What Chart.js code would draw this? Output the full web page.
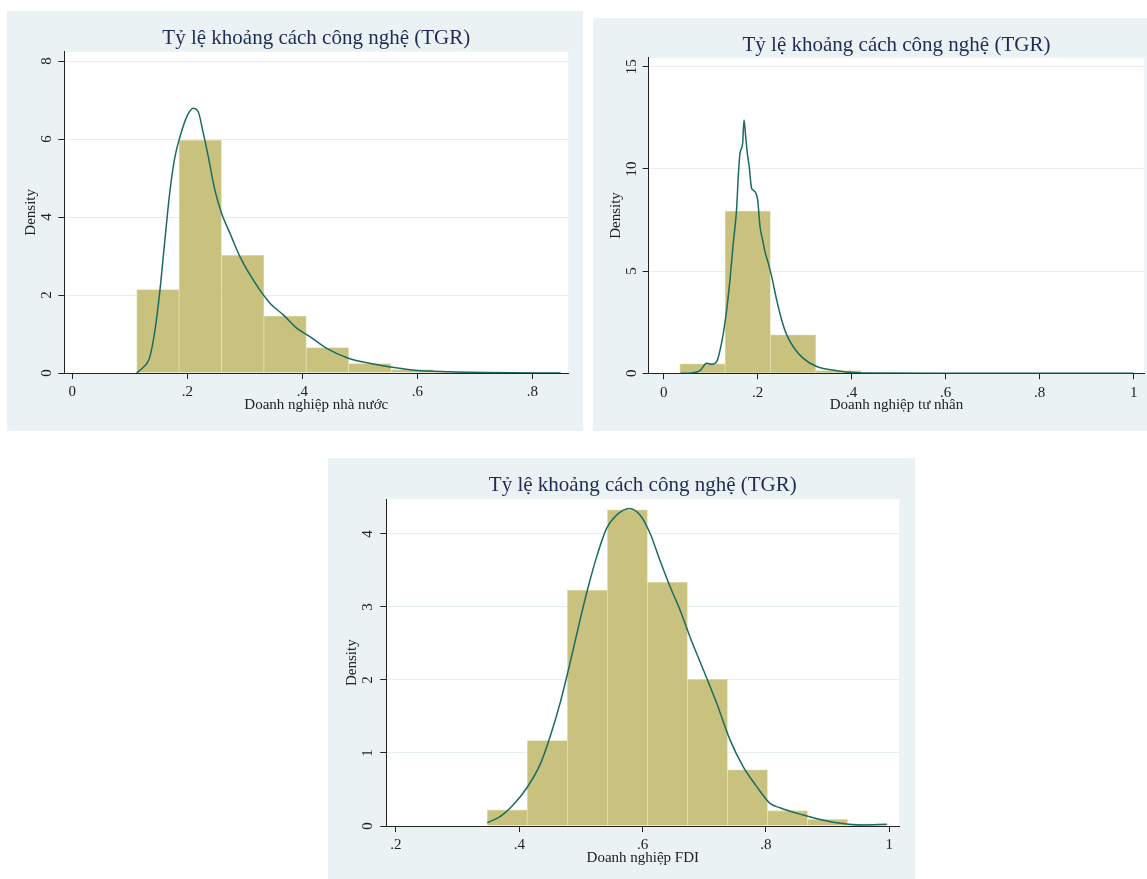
<!DOCTYPE html>
<html lang="vi">
<head>
<meta charset="UTF-8">
<title>Tỷ lệ khoảng cách công nghệ (TGR)</title>
<script src="https://cdn.jsdelivr.net/npm/chart.js"></script>
<style>
    body {
        margin: 0;
        background: #ffffff;
        width: 1147px;
        height: 879px;
        position: relative;
        overflow: hidden;
    }
    .panel {
        position: absolute;
        background: #eaf2f3;
    }
    .panel canvas {
        display: block;
    }
</style>
</head>
<body>
<div class="panel" style="left:7px;top:11px;width:576px;height:420px">
    <canvas id="stateChart" width="576" height="420"></canvas>
</div>
<div class="panel" style="left:593px;top:18px;width:554px;height:413px">
    <canvas id="privateChart" width="554" height="413"></canvas>
</div>
<div class="panel" style="left:328px;top:458px;width:587px;height:421px">
    <canvas id="fdiChart" width="587" height="421"></canvas>
</div>

<script>
const chartTitle = 'Tỷ lệ khoảng cách công nghệ (TGR)';

// Doanh nghiệp nhà nước
const stateBins = [0.1489, 0.2226, 0.2963, 0.3700, 0.4437, 0.5174, 0.5911, 0.6648, 0.7385, 0.8122];
const stateDensity = [2.14, 5.97, 3.02, 1.46, 0.65, 0.24, 0.09, 0.03, 0.01, 0.01];
const stateKdeX = [0.112, 0.1207, 0.1294, 0.135, 0.1438, 0.1525, 0.161, 0.170, 0.1786, 0.1873, 0.199, 0.2104, 0.219, 0.2278, 0.2365, 0.248, 0.2598, 0.2743, 0.2917, 0.3148, 0.3438, 0.367, 0.3903, 0.4134, 0.4424, 0.480, 0.524, 0.590, 0.655, 0.720, 0.849];
const stateKdeY = [0, 0.11, 0.24, 0.42, 1.10, 2.13, 3.41, 4.69, 5.55, 6.06, 6.57, 6.79, 6.70, 6.15, 5.55, 4.69, 4.09, 3.58, 2.98, 2.38, 1.79, 1.49, 1.15, 0.93, 0.63, 0.38, 0.23, 0.08, 0.03, 0.01, 0];
const stateXTicks = [0, 0.2, 0.4, 0.6, 0.8];
const stateXLabels = ['0', '.2', '.4', '.6', '.8'];
const stateYTicks = [0, 2, 4, 6, 8];

// Doanh nghiệp tư nhân
const privateBins = [0.0825, 0.1789, 0.2753, 0.3717, 0.4681, 0.5645, 0.6609, 0.7573, 0.8537, 0.9501];
const privateDensity = [0.46, 7.94, 1.88, 0.13, 0.01, 0.003, 0.002, 0.002, 0.002, 0.003];
const privateKdeX = [0.036, 0.060, 0.0772, 0.0915, 0.1021, 0.1128, 0.120, 0.127, 0.134, 0.141, 0.148, 0.155, 0.1587, 0.1623, 0.168, 0.1709, 0.1745, 0.178, 0.182, 0.187, 0.192, 0.1964, 0.200, 0.205, 0.2106, 0.2155, 0.2226, 0.2298, 0.2404, 0.251, 0.2617, 0.2757, 0.297, 0.3255, 0.368, 0.4106, 0.439, 0.60, 0.80, 1.00];
const privateKdeY = [0, 0.02, 0.13, 0.49, 0.44, 0.57, 1.14, 1.96, 3.10, 4.57, 6.36, 7.99, 9.62, 10.76, 11.25, 12.39, 11.58, 10.76, 10.11, 9.05, 8.94, 8.80, 8.48, 7.17, 6.52, 5.95, 5.38, 4.73, 3.59, 2.61, 1.88, 1.30, 0.73, 0.33, 0.13, 0.03, 0.01, 0.005, 0.003, 0];
const privateXTicks = [0, 0.2, 0.4, 0.6, 0.8, 1];
const privateXLabels = ['0', '.2', '.4', '.6', '.8', '1'];
const privateYTicks = [0, 5, 10, 15];

// Doanh nghiệp FDI
const fdiBins = [0.3806, 0.4455, 0.5104, 0.5753, 0.6402, 0.7051, 0.7700, 0.8349, 0.8998, 0.9647];
const fdiDensity = [0.22, 1.17, 3.23, 4.33, 3.34, 2.01, 0.77, 0.21, 0.09, 0.03];
const fdiKdeX = [0.3481, 0.3687, 0.3903, 0.412, 0.4336, 0.4498, 0.466, 0.4822, 0.4984, 0.5119, 0.5255, 0.5417, 0.558, 0.5784, 0.5957, 0.612, 0.628, 0.6444, 0.6606, 0.6768, 0.6984, 0.7201, 0.7417, 0.7632, 0.785, 0.8065, 0.8227, 0.8605, 0.8876, 0.9146, 0.9578, 0.9957];
const fdiKdeY = [0.045, 0.127, 0.29, 0.52, 0.84, 1.22, 1.68, 2.23, 2.82, 3.28, 3.69, 4.08, 4.26, 4.35, 4.26, 4.01, 3.64, 3.28, 2.96, 2.59, 2.14, 1.68, 1.18, 0.81, 0.54, 0.31, 0.25, 0.15, 0.09, 0.045, 0.014, 0.023];
const fdiXTicks = [0.2, 0.4, 0.6, 0.8, 1];
const fdiXLabels = ['.2', '.4', '.6', '.8', '1'];
const fdiYTicks = [0, 1, 2, 3, 4];

const serif = "'Liberation Serif', 'Times New Roman', serif";
const axisColor = '#222222';

// white plot region inside the bluish graph region
const plotBackground = {
    id: 'plotBackground',
    beforeDraw(chart) {
        const a = chart.chartArea;
        const ctx = chart.ctx;
        ctx.save();
        ctx.fillStyle = '#ffffff';
        ctx.fillRect(a.left, a.top, a.right - a.left, a.bottom - a.top);
        ctx.restore();
    }
};

// Stata-style y labels, rotated to read bottom to top
const rotatedYLabels = {
    id: 'rotatedYLabels',
    afterDraw(chart, args, opts) {
        const scale = chart.scales.y;
        const ctx = chart.ctx;
        ctx.save();
        ctx.fillStyle = axisColor;
        ctx.font = '15px ' + serif;
        ctx.textAlign = 'center';
        ctx.textBaseline = 'middle';
        scale.ticks.forEach(t => {
            const y = scale.getPixelForValue(t.value);
            ctx.save();
            ctx.translate(opts.x, y);
            ctx.rotate(-Math.PI / 2);
            ctx.fillText(String(t.value), 0, 0);
            ctx.restore();
        });
        ctx.restore();
    }
};

function histChart(id, d, lay) {
    return new Chart(document.getElementById(id), {
        type: 'bar',
        data: {
            datasets: [{
                type: 'line',
                data: d.kdeX.map((x, i) => ({ x: x, y: d.kdeY[i] })),
                borderColor: '#1b6b62',
                borderWidth: 1.5,
                pointRadius: 0,
                cubicInterpolationMode: 'monotone',
                order: 0
            }, {
                type: 'bar',
                data: d.bins.map((x, i) => ({ x: x, y: d.density[i] })),
                backgroundColor: '#c9c27e',
                borderColor: '#e2ddb0',
                borderWidth: 0.8,
                barPercentage: 1,
                categoryPercentage: 1,
                order: 1
            }]
        },
        options: {
            responsive: false,
            animation: false,
            layout: { padding: { left: 0, right: lay.right, top: 0, bottom: 0 } },
            plugins: {
                legend: { display: false },
                tooltip: { enabled: false },
                title: {
                    display: true,
                    text: chartTitle,
                    fullSize: false,
                    color: '#1e2b55',
                    font: { family: serif, size: 21, weight: 'normal', lineHeight: 1 },
                    padding: { top: lay.titleTop, bottom: lay.titleBottom }
                },
                rotatedYLabels: { x: lay.yLabelX }
            },
            scales: {
                x: {
                    type: 'linear',
                    min: lay.xMin,
                    max: lay.xMax,
                    offset: false,
                    z: 1,
                    afterBuildTicks: s => { s.ticks = d.xTicks.map(v => ({ value: v })); },
                    afterFit: s => { s.height = lay.xHeight; },
                    ticks: {
                        callback: v => d.xLabels[d.xTicks.indexOf(v)],
                        autoSkip: false,
                        maxRotation: 0,
                        padding: 6,
                        color: axisColor,
                        font: { family: serif, size: 15, lineHeight: 1 }
                    },
                    grid: { display: true, drawOnChartArea: false, offset: false, tickLength: 6, tickColor: axisColor },
                    border: { display: true, color: axisColor, width: 1 },
                    title: {
                        display: true,
                        text: d.xTitle,
                        color: axisColor,
                        font: { family: serif, size: 15, lineHeight: 1 },
                        padding: { top: 0, bottom: lay.xTitlePad }
                    }
                },
                y: {
                    type: 'linear',
                    min: 0,
                    max: lay.yMax,
                    afterBuildTicks: s => { s.ticks = d.yTicks.map(v => ({ value: v })); },
                    afterFit: s => { s.width = lay.yWidth; },
                    ticks: { display: false },
                    grid: {
                        color: c => (c.tick && c.tick.value === 0) ? 'rgba(0,0,0,0)' : '#e4eef0',
                        tickColor: axisColor,
                        tickLength: 6
                    },
                    border: { display: true, color: axisColor, width: 1 },
                    title: {
                        display: true,
                        text: 'Density',
                        color: axisColor,
                        font: { family: serif, size: 15, lineHeight: 1 },
                        padding: { top: lay.yTitlePad, bottom: 0 }
                    }
                }
            }
        },
        plugins: [plotBackground, rotatedYLabels]
    });
}

histChart('stateChart', {
    bins: stateBins, density: stateDensity, kdeX: stateKdeX, kdeY: stateKdeY,
    xTicks: stateXTicks, xLabels: stateXLabels, yTicks: stateYTicks,
    xTitle: 'Doanh nghiệp nhà nước'
}, {
    xMin: -0.0139, xMax: 0.8626, yMax: 8.24,
    right: 14.7, yWidth: 57.3, xHeight: 58, titleTop: 16.5, titleBottom: 3.2,
    xTitlePad: 18.8, yTitlePad: 16.2, yLabelX: 39.7
});

histChart('privateChart', {
    bins: privateBins, density: privateDensity, kdeX: privateKdeX, kdeY: privateKdeY,
    xTicks: privateXTicks, xLabels: privateXLabels, yTicks: privateYTicks,
    xTitle: 'Doanh nghiệp tư nhân'
}, {
    xMin: -0.0321, xMax: 1.0226, yMax: 15.44,
    right: 2.7, yWidth: 55.6, xHeight: 57.7, titleTop: 16.8, titleBottom: 1.9,
    xTitlePad: 18.8, yTitlePad: 15.4, yLabelX: 38.7
});

histChart('fdiChart', {
    bins: fdiBins, density: fdiDensity, kdeX: fdiKdeX, kdeY: fdiKdeY,
    xTicks: fdiXTicks, xLabels: fdiXLabels, yTicks: fdiYTicks,
    xTitle: 'Doanh nghiệp FDI'
}, {
    xMin: 0.1843, xMax: 1.0162, yMax: 4.475,
    right: 15.7, yWidth: 58.3, xHeight: 53, titleTop: 17.4, titleBottom: 2.9,
    xTitlePad: 13.1, yTitlePad: 16.5, yLabelX: 40.2
});
</script>
</body>
</html>
